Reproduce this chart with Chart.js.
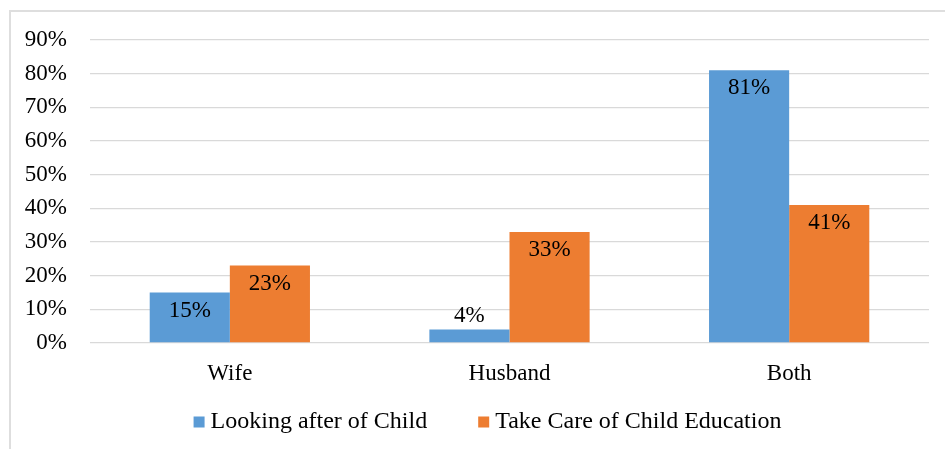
<!DOCTYPE html>
<html>
<head>
<meta charset="utf-8">
<script src="https://cdn.jsdelivr.net/npm/chart.js@4/dist/chart.umd.min.js"></script>
<style>
  html, body { margin: 0; padding: 0; background: #fff; overflow: hidden; }
  #wrap { position: relative; width: 945px; height: 449px; }
  #frame { position: absolute; left: 9px; top: 10px; width: 2000px; height: 2000px;
           border-top: 2px solid #dedede; border-left: 2px solid #dedede; box-sizing: border-box; }
  canvas { position: absolute; left: 0; top: 0; }
</style>
</head>
<body>
<div id="wrap">
  <div id="frame"></div>
  <canvas id="chart" width="945" height="449"></canvas>
</div>
<script>
const categories = ['Wife', 'Husband', 'Both'];
const lookingAfterChild = [15, 4, 81];
const childEducation = [23, 33, 41];
const seriesNames = ['Looking after of Child', 'Take Care of Child Education'];
const yTicks = [0, 10, 20, 30, 40, 50, 60, 70, 80, 90];

const FONT = '"Liberation Serif", "Times New Roman", serif';
Chart.defaults.font.family = FONT;
Chart.defaults.font.size = 23;
Chart.defaults.color = '#000';

// Percentage labels: inside the top of tall bars, above short ones
const barLabels = {
  id: 'barLabels',
  afterDatasetsDraw(chart) {
    const ctx = chart.ctx;
    ctx.save();
    ctx.font = '23px ' + FONT;
    ctx.fillStyle = '#000';
    ctx.textAlign = 'center';
    ctx.textBaseline = 'middle';
    chart.data.datasets.forEach((ds, di) => {
      chart.getDatasetMeta(di).data.forEach((bar, i) => {
        const v = ds.data[i];
        const h = bar.base - bar.y;
        const y = h > 30 ? bar.y + 18 : bar.y - 14;
        ctx.fillText(v + '%', bar.x, y);
      });
    });
    ctx.restore();
  }
};

// Legend row under the axis: small square swatch, then the series name
const legendRow = {
  id: 'legendRow',
  afterDraw(chart, args, opts) {
    const ctx = chart.ctx;
    ctx.save();
    ctx.font = opts.size + 'px ' + FONT;
    ctx.textBaseline = 'middle';
    ctx.textAlign = 'left';
    const items = chart.data.datasets.map(ds => ({
      text: ds.label, color: ds.backgroundColor, w: ctx.measureText(ds.label).width
    }));
    const itemW = it => opts.box + opts.textGap + it.w;
    const total = items.reduce((s, it) => s + itemW(it), 0) + opts.itemGap * (items.length - 1);
    let x = opts.centerX - total / 2;
    items.forEach(it => {
      ctx.fillStyle = it.color;
      ctx.fillRect(x, opts.y - opts.box / 2, opts.box, opts.box);
      ctx.fillStyle = '#000';
      ctx.fillText(it.text, x + opts.box + opts.textGap, opts.y);
      x += itemW(it) + opts.itemGap;
    });
    ctx.restore();
  }
};

new Chart(document.getElementById('chart'), {
  type: 'bar',
  data: {
    labels: categories,
    datasets: [
      { label: seriesNames[0], data: lookingAfterChild, backgroundColor: '#5B9BD5' },
      { label: seriesNames[1], data: childEducation, backgroundColor: '#ED7D31' }
    ]
  },
  options: {
    responsive: false,
    animation: false,
    events: [],
    layout: { padding: { left: 0, right: 16, top: 40, bottom: 0 } },
    datasets: { bar: { categoryPercentage: 0.573, barPercentage: 1.0 } },
    scales: {
      x: {
        grid: { display: false, drawTicks: false },
        border: { display: false },
        ticks: { padding: 17, font: { size: 23 }, color: '#000' },
        afterFit(scale) { scale.height = 106; }
      },
      y: {
        min: 0, max: 90,
        afterBuildTicks(scale) { scale.ticks = yTicks.map(v => ({ value: v })); },
        grid: { color: '#d9d9d9', lineWidth: 1.3, drawTicks: false },
        border: { display: false },
        ticks: { padding: 23, font: { size: 23 }, color: '#000', callback: v => v + '%' },
        afterFit(scale) { scale.width = 90; }
      }
    },
    plugins: {
      tooltip: { enabled: false },
      legend: { display: false },
      legendRow: { size: 24, box: 11, textGap: 6, itemGap: 51, centerX: 487.5, y: 422 }
    }
  },
  plugins: [barLabels, legendRow]
});
</script>
</body>
</html>
